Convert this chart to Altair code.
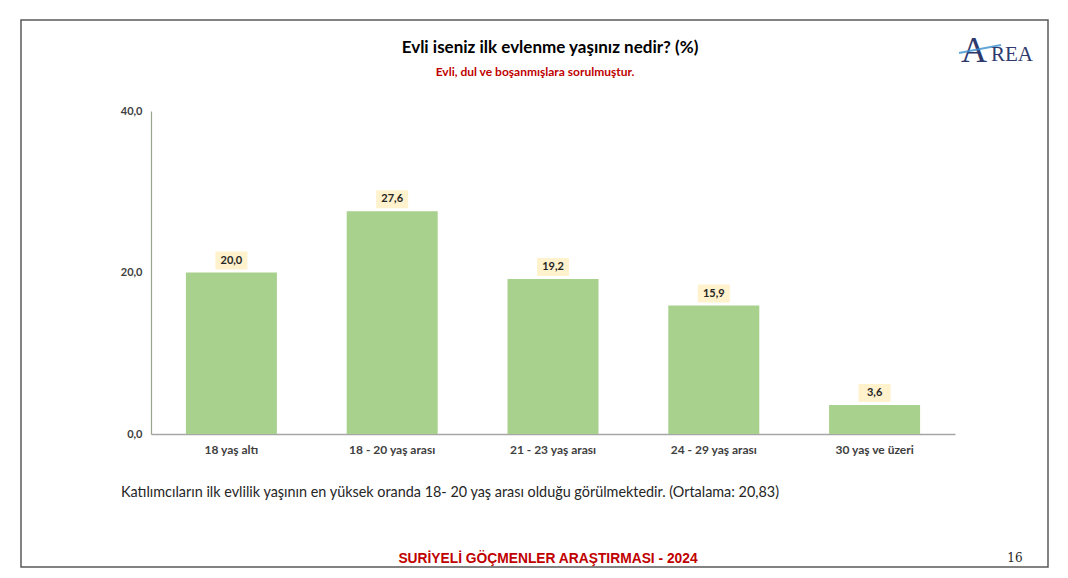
import altair as alt
import pandas as pd

categories = ["18 yaş altı", "18  - 20 yaş arası", "21 - 23 yaş arası", "24 - 29 yaş arası", "30 yaş ve üzeri"]
values = [20.0, 27.6, 19.2, 15.9, 3.6]
y_ticks = [0, 20, 40]

title_text = "Evli iseniz ilk evlenme yaşınız nedir? (%)"
subtitle_text = "Evli, dul ve boşanmışlara sorulmuştur."
note_text = "Katılımcıların ilk evlilik yaşının en yüksek oranda 18- 20 yaş arası olduğu görülmektedir. (Ortalama: 20,83)"
footer_text = "SURİYELİ GÖÇMENLER ARAŞTIRMASI - 2024"
page_text = "16"

df = pd.DataFrame({"cat": categories, "val": values})
one = pd.DataFrame({"k": [0]})

FONT = "Lato"

x_enc = alt.X(
    "cat:N", sort=categories, title=None,
    axis=alt.Axis(labelAngle=0, labelFont=FONT, labelFontSize=12, labelFontWeight="bold",
                  labelColor="#404040", ticks=False, domainColor="#a6a6a6", domainWidth=1.5,
                  labelPadding=10),
)
y_enc = alt.Y(
    "val:Q", title=None, scale=alt.Scale(domain=[0, 40]),
    axis=alt.Axis(values=y_ticks, grid=False, ticks=False, labelFont=FONT, labelFontSize=11,
                  labelFontWeight="bold", labelColor="#404040", domainColor="#9aa38c",
                  domainWidth=1.2, labelPadding=9,
                  labelExpr="replace(format(datum.value, '.1f'), '.', ',')"),
)

base = alt.Chart(df)

bars = base.mark_bar(width=91, color="#a9d18e").encode(x=x_enc, y=y_enc)

boxes = base.mark_bar(width=32, color="#fff2cc", yOffset=-21, y2Offset=-3).encode(
    x=x_enc, y=y_enc, y2="val:Q"
)

labels = base.transform_calculate(
    lbl="replace(format(datum.val, '.1f'), '.', ',')"
).mark_text(dy=-12, font=FONT, fontSize=11, fontWeight="bold", color="#262626").encode(
    x=x_enc, y=y_enc, text="lbl:N"
)

def txt(s, x, y, **kw):
    return alt.Chart(pd.DataFrame({"t": [s]})).mark_text(**kw).encode(
        x=alt.value(x), y=alt.value(y), text="t:N"
    )

frame = alt.Chart(one).mark_rect(fillOpacity=0, stroke="#595959", strokeWidth=1.5).encode(
    x=alt.value(-130), x2=alt.value(897), y=alt.value(-91), y2=alt.value(456)
)

title = txt(title_text, 399, -63, font=FONT, fontSize=17, fontWeight="bold", color="#000000",
            align="center", baseline="middle")
subtitle = txt(subtitle_text, 384, -39, font=FONT, fontSize=12, fontWeight="bold", color="#c00000",
               align="center", baseline="middle")
note = txt(note_text, -30, 382, font=FONT, fontSize=14.4, color="#262626",
           align="left", baseline="middle")
footer = txt(footer_text, 397, 448, font="Liberation Sans", fontSize=13.8, fontWeight="bold",
             color="#c00000", align="center", baseline="middle")
page = txt(page_text, 864, 447, font="DejaVu Serif", fontSize=12, color="#262626",
           align="center", baseline="middle")
swoosh = alt.Chart(one).mark_rule(stroke="#3b8fd0", strokeWidth=2, opacity=0.8).encode(
    x=alt.value(808), x2=alt.value(850), y=alt.value(-58), y2=alt.value(-66)
)
logo_a = txt("A", 823, -49, font="Liberation Serif", fontSize=36, color="#2e3a6e",
             align="center", baseline="alphabetic")
logo_rea = txt("REA", 840, -50, font="Liberation Serif", fontSize=21, color="#2e3a6e",
               align="left", baseline="alphabetic")

chart = alt.layer(
    frame, bars, boxes, labels, title, subtitle, note, footer, page, logo_a, swoosh, logo_rea
).properties(
    width=804, height=323,
    padding={"left": 143, "top": 103, "right": 105, "bottom": 134},
    autosize=alt.AutoSizeParams(type="none"),
).configure_view(stroke=None)

chart.save("out.html", embed_options={"renderer": "svg", "actions": False})
